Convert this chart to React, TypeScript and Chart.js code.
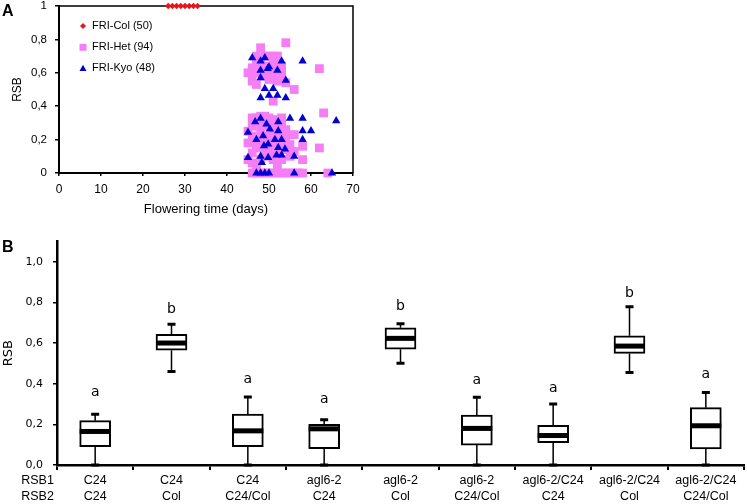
import React, { useEffect, useRef } from 'react';
import { Chart, registerables } from 'chart.js';
Chart.register(...registerables);

// ---------- Panel A data ----------
const colDays = [26, 27, 28, 29, 30, 31, 32, 33];
const colRsb = [1, 1, 1, 1, 1, 1, 1, 1];

const hetDays = [
  48, 54, 62, 56, 51, 45, 46, 46, 47, 47, 48, 49, 50, 51, 52, 52, 53, 53, 53, 51, 50, 49, 54, 52, 47, 51, 49, 50, 48, 47,
  46, 47, 48, 49, 50, 51, 53, 54, 56, 55, 58, 58, 62, 63, 45, 46, 46, 47, 47, 46, 45, 47, 48, 48, 48, 49, 49, 50, 50, 51,
  51, 51, 52, 52, 52, 53, 53, 54, 54, 50, 49, 53, 55, 45, 46, 48, 50, 52, 53, 56,
  46, 47, 48, 49, 50, 51, 52, 53, 54, 55, 56, 57, 58, 64,
];
const hetRsb = [
  0.75, 0.78, 0.625, 0.5, 0.43, 0.6, 0.63, 0.55, 0.6, 0.53, 0.65, 0.7, 0.7, 0.7, 0.7, 0.66, 0.64, 0.6, 0.56, 0.6, 0.56, 0.58, 0.54, 0.55, 0.66, 0.65, 0.62, 0.64, 0.6, 0.7,
  0.33, 0.33, 0.34, 0.34, 0.33, 0.32, 0.3, 0.26, 0.23, 0.17, 0.16, 0.08, 0.15, 0.36, 0.25, 0.22, 0.28, 0.2, 0.15, 0.12, 0.08, 0.05, 0.08, 0.18, 0.25, 0.28, 0.13, 0.2, 0.1, 0.25,
  0.15, 0.08, 0.2, 0.27, 0.12, 0.18, 0.08, 0.14, 0.22, 0.3, 0.22, 0.24, 0.1, 0.18, 0.06, 0.3, 0.15, 0.05, 0.33, 0.13,
  0, 0, 0, 0, 0, 0, 0, 0, 0, 0, 0, 0, 0, 0,
];

const kyoDays = [
  46, 49, 48, 53, 58, 50, 52, 48, 49.7, 48, 54, 49, 51, 48, 50, 52, 54,
  55, 58, 66, 45, 46.7, 48, 49.4, 52.2, 58, 60, 58, 47, 48.6, 50.2, 52.2, 53, 49.8, 53.8, 56, 45, 48, 49.8, 48.3, 51.8, 53, 52.2, 51.4, 48.8,
  47, 48, 49, 50, 56, 65,
];
const kyoRsb = [
  0.69, 0.69, 0.67, 0.67, 0.67, 0.635, 0.615, 0.615, 0.625, 0.57, 0.555, 0.505, 0.505, 0.45, 0.465, 0.465, 0.45,
  0.327, 0.327, 0.313, 0.243, 0.307, 0.327, 0.293, 0.307, 0.253, 0.253, 0.2, 0.2, 0.223, 0.263, 0.253, 0.2, 0.173, 0.143, 0.1, 0.092, 0.1, 0.092, 0.062, 0.107, 0.107, 0.152, 0.2, 0.163,
  0, 0, 0, 0, 0, 0,
];

const legendLabels = ['FRI-Col (50)', 'FRI-Het (94)', 'FRI-Kyo (48)'];
const xTicksA = [0, 10, 20, 30, 40, 50, 60, 70];

// ---------- Panel B data ----------
const rsb1 = ['C24', 'C24', 'C24', 'agl6-2', 'agl6-2', 'agl6-2', 'agl6-2/C24', 'agl6-2/C24', 'agl6-2/C24'];
const rsb2 = ['C24', 'Col', 'C24/Col', 'C24', 'Col', 'C24/Col', 'C24', 'Col', 'C24/Col'];
const boxMin = [0, 0.46, 0, 0, 0.5, 0, 0, 0.455, 0];
const boxQ1 = [0.09, 0.565, 0.09, 0.08, 0.57, 0.098, 0.11, 0.549, 0.079];
const boxMedian = [0.165, 0.6, 0.168, 0.178, 0.623, 0.18, 0.145, 0.585, 0.193];
const boxQ3 = [0.218, 0.643, 0.25, 0.2, 0.675, 0.245, 0.195, 0.636, 0.282];
const boxMax = [0.25, 0.693, 0.335, 0.222, 0.695, 0.333, 0.3, 0.779, 0.357];
const sigLetters = ['a', 'b', 'a', 'a', 'b', 'a', 'a', 'b', 'a'];
const letterLevel = [0.339, 0.749, 0.403, 0.305, 0.762, 0.398, 0.359, 0.825, 0.428];
const yTicksB = [0, 0.2, 0.4, 0.6, 0.8, 1.0];

const SANS = '"Liberation Sans", Arial, sans-serif';
const DEJA = '"DejaVu Sans", Verdana, sans-serif';
const RED = '#e4161c';
const PINK = '#f57ef5';
const BLUE = '#0000d2';

const fmtComma = (v: number) => (v === 0 ? '0' : v === 1 ? '1' : v.toFixed(1).replace('.', ','));

const frameAPlugin = {
  id: 'frameA',
  beforeDatasetsDraw(chart: any) {
    const { ctx, chartArea } = chart;
    ctx.save();
    ctx.strokeStyle = '#000';
    ctx.lineWidth = 1.5;
    ctx.beginPath();
    ctx.moveTo(chartArea.left, chartArea.top);
    ctx.lineTo(chartArea.right, chartArea.top);
    ctx.lineTo(chartArea.right, chartArea.bottom);
    ctx.stroke();
    ctx.restore();
  },
  afterDraw(chart: any) {
    const { ctx, chartArea } = chart;
    ctx.save();
    const mx = chartArea.left + 24;
    const tx = chartArea.left + 33;
    const rows = [chartArea.top + 20, chartArea.top + 41.3, chartArea.top + 62.3];
    // diamond
    ctx.fillStyle = RED;
    ctx.beginPath();
    ctx.moveTo(mx, rows[0] - 3);
    ctx.lineTo(mx + 3, rows[0]);
    ctx.lineTo(mx, rows[0] + 3);
    ctx.lineTo(mx - 3, rows[0]);
    ctx.closePath();
    ctx.fill();
    // square
    ctx.fillStyle = PINK;
    ctx.fillRect(mx - 3.5, rows[1] - 3.5, 7, 7);
    // triangle
    ctx.fillStyle = BLUE;
    ctx.beginPath();
    ctx.moveTo(mx, rows[2] - 3.5);
    ctx.lineTo(mx + 3.5, rows[2] + 2.8);
    ctx.lineTo(mx - 3.5, rows[2] + 2.8);
    ctx.closePath();
    ctx.fill();
    ctx.fillStyle = '#000';
    ctx.font = `11px ${SANS}`;
    ctx.textAlign = 'left';
    ctx.textBaseline = 'middle';
    legendLabels.forEach((t, i) => ctx.fillText(t, tx, rows[i]));
    ctx.restore();
  },
};

const boxPlugin = {
  id: 'boxes',
  afterDatasetsDraw(chart: any) {
    const { ctx, scales, chartArea } = chart;
    const y = scales.y;
    const meta = chart.getDatasetMeta(0);
    ctx.save();
    boxMin.forEach((mn, i) => {
      const bar = meta.data[i];
      const cx = bar.x;
      const w = bar.width;
      const pMin = y.getPixelForValue(mn);
      const pQ1 = y.getPixelForValue(boxQ1[i]);
      const pMed = y.getPixelForValue(boxMedian[i]);
      const pQ3 = y.getPixelForValue(boxQ3[i]);
      const pMax = y.getPixelForValue(boxMax[i]);
      ctx.strokeStyle = '#000';
      ctx.lineWidth = 1.5;
      ctx.beginPath();
      ctx.moveTo(cx, pQ3);
      ctx.lineTo(cx, pMax);
      ctx.moveTo(cx, pQ1);
      ctx.lineTo(cx, pMin);
      ctx.stroke();
      ctx.lineWidth = 3;
      ctx.beginPath();
      ctx.moveTo(cx - 4, pMax);
      ctx.lineTo(cx + 4, pMax);
      ctx.moveTo(cx - 4, pMin);
      ctx.lineTo(cx + 4, pMin);
      ctx.stroke();
      ctx.fillStyle = '#000';
      ctx.fillRect(cx - w / 2, pMed - 2.5, w, 5);
      ctx.font = `14px ${DEJA}`;
      ctx.textAlign = 'center';
      ctx.textBaseline = 'alphabetic';
      ctx.fillText(sigLetters[i], cx, y.getPixelForValue(letterLevel[i]));
    });
    ctx.font = `12.5px ${SANS}`;
    ctx.textAlign = 'center';
    ctx.textBaseline = 'middle';
    const l1 = chartArea.bottom + 5 + 2.5 + 8;
    ctx.fillText('RSB1', 37.5, l1);
    ctx.fillText('RSB2', 37.5, l1 + 16);
    ctx.restore();
  },
};

export default function App() {
  const refA = useRef<HTMLCanvasElement>(null);
  const refB = useRef<HTMLCanvasElement>(null);

  useEffect(() => {
    const chartA = new Chart(refA.current as HTMLCanvasElement, {
      type: 'scatter',
      data: {
        datasets: [
          {
            label: legendLabels[0],
            data: colDays.map((d, i) => ({ x: d, y: colRsb[i] })),
            pointStyle: 'rectRot',
            pointRadius: 3.2,
            backgroundColor: RED,
            borderWidth: 0,
            pointBorderWidth: 0,
            order: 0,
            clip: false,
          } as any,
          {
            label: legendLabels[1],
            data: hetDays.map((d, i) => ({ x: d, y: hetRsb[i] })),
            pointStyle: 'rect',
            pointRadius: 6.2,
            backgroundColor: PINK,
            borderWidth: 0,
            pointBorderWidth: 0,
            order: 2,
            clip: false,
          } as any,
          {
            label: legendLabels[2],
            data: kyoDays.map((d, i) => ({ x: d, y: kyoRsb[i] })),
            pointStyle: 'triangle',
            pointRadius: 4.8,
            backgroundColor: BLUE,
            borderWidth: 0,
            pointBorderWidth: 0,
            order: 1,
            clip: false,
          } as any,
        ],
      },
      options: {
        animation: false,
        responsive: false,
        maintainAspectRatio: false,
        layout: { autoPadding: false, padding: { top: 6, right: 27, left: 0, bottom: 0 } },
        plugins: { legend: { display: false }, tooltip: { enabled: false } },
        scales: {
          x: {
            type: 'linear',
            min: 0,
            max: 70,
            afterBuildTicks: (s: any) => {
              s.ticks = xTicksA.map((v) => ({ value: v }));
            },
            ticks: { color: '#000', font: { family: SANS, size: 12, lineHeight: 1 }, padding: 7.3, maxRotation: 0 },
            grid: { drawOnChartArea: false, tickLength: 3, color: '#000', lineWidth: 1.5 },
            border: { color: '#000', width: 2 },
            title: {
              display: true,
              text: 'Flowering time (days)',
              color: '#000',
              font: { family: SANS, size: 13 },
              padding: { top: 0, bottom: 5 },
            },
            afterFit: (s: any) => {
              s.height = 49;
            },
          },
          y: {
            min: 0,
            max: 1,
            ticks: {
              stepSize: 0.2,
              color: '#000',
              font: { family: SANS, size: 11.5, lineHeight: 1 },
              padding: 8,
              callback: (v: any) => fmtComma(Number(v)),
            },
            grid: { drawOnChartArea: false, tickLength: 4, color: '#000', lineWidth: 1.5 },
            border: { color: '#000', width: 2 },
            title: {
              display: true,
              text: 'RSB',
              color: '#000',
              font: { family: SANS, size: 12 },
              padding: { top: 10, bottom: 0 },
            },
            afterFit: (s: any) => {
              s.width = 59;
              s.paddingTop = 0;
              s.paddingBottom = 0;
            },
          },
        },
      },
      plugins: [frameAPlugin],
    });

    const chartB = new Chart(refB.current as HTMLCanvasElement, {
      type: 'bar',
      data: {
        labels: rsb1.map((a, i) => [a, rsb2[i]]),
        datasets: [
          {
            data: boxQ1.map((q, i) => [q, boxQ3[i]]),
            backgroundColor: '#ffffff',
            borderColor: '#000',
            borderWidth: 2,
            borderSkipped: false,
            barThickness: 31,
          } as any,
        ],
      },
      options: {
        animation: false,
        responsive: false,
        maintainAspectRatio: false,
        layout: { autoPadding: false, padding: { top: 19.4, right: 3, left: 0, bottom: 0 } },
        plugins: { legend: { display: false }, tooltip: { enabled: false } },
        scales: {
          x: {
            grid: { display: true, drawOnChartArea: false, offset: true, tickLength: 5, color: '#000', lineWidth: 2 },
            border: { color: '#000', width: 2.5 },
            ticks: {
              color: '#000',
              font: { family: SANS, size: 12.5, lineHeight: 1.28 },
              padding: 2.5,
              maxRotation: 0,
              autoSkip: false,
            },
            afterFit: (s: any) => {
              s.height = 39;
            },
          },
          y: {
            min: 0,
            max: 1.1,
            afterBuildTicks: (s: any) => {
              s.ticks = yTicksB.map((v) => ({ value: v }));
            },
            ticks: {
              color: '#000',
              font: { family: DEJA, size: 11, lineHeight: 1 },
              padding: 10,
              callback: (v: any) => Number(v).toFixed(1).replace('.', ','),
            },
            grid: { drawOnChartArea: false, tickLength: 4, color: '#000', lineWidth: 1.5 },
            border: { color: '#000', width: 2.5 },
            title: {
              display: true,
              text: 'RSB',
              color: '#000',
              font: { family: DEJA, size: 13 },
              padding: { top: 1, bottom: 0 },
            },
            afterFit: (s: any) => {
              s.width = 57;
              s.paddingTop = 0;
              s.paddingBottom = 0;
            },
          },
        },
      },
      plugins: [boxPlugin],
    });

    return () => {
      chartA.destroy();
      chartB.destroy();
    };
  }, []);

  const panelLabel: React.CSSProperties = {
    position: 'absolute',
    left: 2,
    fontFamily: SANS,
    fontWeight: 'bold',
    fontSize: 16,
    lineHeight: '16px',
    color: '#000',
  };

  return (
    <div style={{ position: 'absolute', left: 0, top: 0, width: 747, height: 504, background: '#fff' }}>
      <canvas ref={refA} width={380} height={222} style={{ position: 'absolute', left: 0, top: 0, display: 'block' }} />
      <canvas ref={refB} width={747} height={282} style={{ position: 'absolute', left: 0, top: 222, display: 'block' }} />
      <div style={{ ...panelLabel, top: 3 }}>A</div>
      <div style={{ ...panelLabel, top: 239 }}>B</div>
    </div>
  );
}
